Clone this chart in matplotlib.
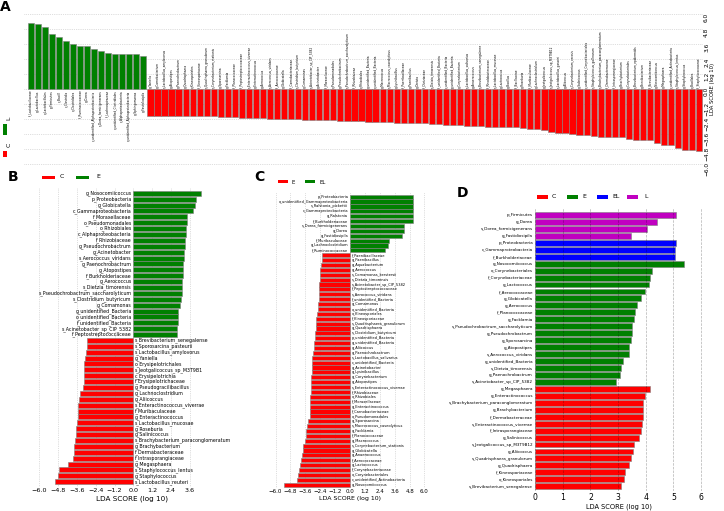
import numpy as np
import matplotlib
matplotlib.use('Agg')
import matplotlib.pyplot as plt
from matplotlib.patches import Rectangle

W, H = 724, 511

RED = '#ff0000'
GREEN = '#008000'
BLUE = '#0000ff'
MAGENTA = '#c000c0'
EDGE = '#808080'

# ---------------- panel A : C vs L ----------------
a_labels_L = ['f_Lactobacillaceae', 'g_Lactobacillus', 'o_Lactobacillales', 'p_Firmicutes',
              'c_Bacilli', 'c_Clostridia', 'o_Clostridiales', 'f_Ruminococcaceae', 'g_Dorea',
              'c_unidentified_Alphaproteobacteria', 's_Dorea_formicigenerans', 'f_Lachnospiraceae',
              'o_unidentified_Clostridiales', 'c_Alphaproteobacteria',
              'o_unidentified_Alphaproteobacteria', 'g_Sphingomonas', 'g_Fastidiosipila']
a_scores_L = [5.29, 5.21, 5.02, 4.43, 4.16, 3.89, 3.65, 3.46, 3.46, 3.25, 3.06, 2.90,
              2.84, 2.84, 2.79, 2.79, 2.68]

a_labels_C = ['g_Yaniella', 'g_Carnobacterium', 's_Lactobacillus_amylovorus', 'g_Atopostipes',
              'g_Paenochrobactrum', 'g_Quadrisphaera', 'o_Kineosporiales', 'f_Kineosporiaceae',
              's_Quadrisphaera_granulorum', 's_Corynebacterium_stationis', 'g_Sporosarcina',
              'g_Facklamia', 'f_Planococcaceae', 'f_Peptostreptococcaceae',
              's_Enteractinococcus_viverrae', 'g_Enteractinococcus', 'g_Aerococcus',
              's_Aerococcus_viridans', 'f_Aerococcaceae', 'g_Globicatella', 'f_Carnobacteriaceae',
              's_Clostridium_butyricum', 'g_Comamonas', 's_Acinetobacter_sp_CIP_5382',
              'g_Acinetobacter', 'f_Moraxellaceae', 'o_Pseudomonadales', 'g_Pseudochrobactrum',
              's_Pseudochrobactrum_saccharolyticum', 'f_Rhizobiaceae', 'o_Rhizobiales',
              'g_unidentified_Bacteria', 'o_unidentified_Bacteria', 'g_Macrococcus',
              's_Macrococcus_caseolyticus', 'g_Lysinibacillus', 'f_Paenibacillaceae',
              'g_Paenibacillus', 'g_Dietzia', 'f_Dietziaceae', 's_Dietzia_timorensis',
              'f_unidentified_Bacteria', 'c_unidentified_Bacteria', 'p_unidentified_Bacteria',
              'g_Corynebacterium', 's_Lactobacillus_salivarius', 'g_Anaerococcus',
              's_Brevibacterium_senegalense', 'f_Rhodobacteraceae', 's_Lactobacillus_mucosae',
              'g_Lactococcus', 'g_Bacillus', 'f_Bacillaceae', 'g_Roseburia', 'f_Muribaculaceae',
              'g_Lachnoclostridium', 'g_Jeotgalicoccus', 's_Jeotgalicoccus_sp_M3T9B12',
              's_Lactobacillus_gasseri', 'g_Aliicoccus', 's_Corynebacterium_xerosis',
              'g_Salinicoccus', 'c_unidentified_Corynebacteriales', 's_Staphylococcus_gallinarum',
              's_Brachybacterium_paraconglomeratum', 'f_Dermabacteraceae', 'f_Intrasporangiaceae',
              'g_Brachybacterium', 'o_Corynebacteriales', 's_Brevibacterium_epidermidis',
              'g_Brevibacterium', 'f_Brevibacteriaceae', 'g_Nosocomiicoccus', 'g_Megasphaera',
              'c_unidentified_Actinobacteria', 's_Staphylococcus_lentus', 'g_Staphylococcus',
              'o_Bacillales', 'f_Staphylococcaceae']
a_scores_C = [-2.14, -2.15, -2.15, -2.16, -2.17, -2.17, -2.18, -2.19, -2.20, -2.21, -2.23,
              -2.25, -2.27, -2.30, -2.33,
              -2.36, -2.37, -2.39, -2.40, -2.42, -2.44, -2.45, -2.47, -2.48, -2.50, -2.52,
              -2.53, -2.55, -2.57, -2.58, -2.60, -2.62, -2.63, -2.65, -2.67, -2.70, -2.72,
              -2.73, -2.75, -2.77, -2.80, -2.83, -2.86, -2.88, -2.91, -2.94, -2.96,
              -2.98, -3.03, -3.03, -3.06, -3.08, -3.08, -3.11, -3.19, -3.24, -3.30, -3.44,
              -3.52, -3.57, -3.65, -3.70, -3.73, -3.78, -3.84, -3.84, -3.84, -3.89, -4.00,
              -4.08, -4.08, -4.14, -4.32, -4.48, -4.51, -4.78, -4.88, -4.92, -4.97]

# ---------------- panel B : C vs E ----------------
b_labels_E = ['g_Nosocomiicoccus', 'p_Proteobacteria', 'g_Globicatella', 'c_Gammaproteobacteria',
              'f_Moraxellaceae', 'o_Pseudomonadales', 'o_Rhizobiales', 'c_Alphaproteobacteria',
              'f_Rhizobiaceae', 'g_Pseudochrobactrum', 'g_Acinetobacter', 's_Aerococcus_viridans',
              'g_Paenochrobactrum', 'g_Atopostipes', 'f_Burkholderiaceae', 'g_Aerococcus',
              's_Dietzia_timorensis', 's_Pseudochrobactrum_saccharolyticum',
              's_Clostridium_butyricum', 'g_Comamonas', 'g_unidentified_Bacteria',
              'o_unidentified_Bacteria', 'f_unidentified_Bacteria', 's_Acinetobacter_sp_CIP_5382',
              'f_Peptostreptococcaceae']
b_scores_E = [4.32, 4.00, 3.94, 3.81, 3.43, 3.43, 3.38, 3.34, 3.32, 3.28, 3.26, 3.24, 3.17,
              3.17, 3.15, 3.14, 3.11, 3.09, 3.04, 2.98, 2.87, 2.87, 2.87, 2.77, 2.77]
b_labels_C = ['s_Brevibacterium_senegalense', 's_Sporosarcina_pasteurii',
              's_Lactobacillus_amylovorus', 'g_Yaniella', 'o_Erysipelotrichales',
              's_Jeotgalicoccus_sp_M3T9B1', 'c_Erysipelotrichia', 'f_Erysipelotrichaceae',
              'g_Pseudogracilibacillus', 'g_Lachnoclostridium', 'g_Aliicoccus',
              's_Enteractinococcus_viverrae', 'f_Muribaculaceae', 'g_Enteractinococcus',
              's_Lactobacillus_mucosae', 'g_Roseburia', 'g_Salinicoccus',
              's_Brachybacterium_paraconglomeratum', 'g_Brachybacterium', 'f_Dermabacteraceae',
              'f_Intrasporangiaceae', 'g_Megasphaera', 's_Staphylococcus_lentus',
              'g_Staphylococcus', 's_Lactobacillus_reuteri']
b_scores_C = [-2.94, -2.98, -3.00, -3.10, -3.12, -3.15, -3.15, -3.17, -3.21, -3.40, -3.45,
              -3.53, -3.55, -3.55, -3.60, -3.64, -3.68, -3.74, -3.77, -3.79, -3.87, -4.17,
              -4.74, -4.81, -4.98]

# ---------------- panel C : E vs EL ----------------
c_labels_EL = ['p_Proteobacteria', 'o_unidentified_Gammaproteobacteria', 's_Ralstonia_pickettii',
               'c_Gammaproteobacteria', 'g_Ralstonia', 'f_Burkholderiaceae',
               's_Dorea_formicigenerans', 'g_Dorea', 'g_Fastidiosipila', 'f_Muribaculaceae',
               'g_Lachnoclostridium', 'f_Ruminococcaceae']
c_scores_EL = [5.10, 5.10, 5.10, 5.10, 5.10, 5.10, 4.35, 4.35, 4.19, 3.14, 3.08, 2.84]
c_labels_E = ['f_Paenibacillaceae', 'g_Paenibacillus', 'g_Aquabacterium', 'g_Aerococcus',
              's_Comamonas_kerstersii', 's_Dietzia_timorensis', 's_Acinetobacter_sp_CIP_5382',
              'f_Peptostreptococcaceae', 's_Aerococcus_viridans', 'f_unidentified_Bacteria',
              'g_Comamonas', 'o_unidentified_Bacteria', 'o_Kineosporiales', 'f_Kineosporiaceae',
              's_Quadrisphaera_granulorum', 'g_Quadrisphaera', 's_Clostridium_butyricum',
              'p_unidentified_Bacteria', 'g_unidentified_Bacteria', 'g_Aliicoccus',
              'g_Paenochrobactrum', 's_Lactobacillus_salivarius', 'c_unidentified_Bacteria',
              'g_Acinetobacter', 'g_Lysinibacillus', 'g_Corynebacterium', 'g_Atopostipes',
              's_Enteractinococcus_viverrae', 'f_Rhizobiaceae', 'o_Rhizobiales',
              'f_Moraxellaceae', 'g_Enteractinococcus', 'f_Carnobacteriaceae',
              'o_Pseudomonadales', 'g_Sporosarcina', 's_Macrococcus_caseolyticus',
              'g_Facklamia', 'f_Planococcaceae', 'g_Macrococcus', 's_Corynebacterium_stationis',
              'g_Globicatella', 'g_Anaerococcus', 'f_Aerococcaceae', 'g_Lactococcus',
              'f_Corynebacteriaceae', 'o_Corynebacteriales', 'c_unidentified_Actinobacteria',
              'g_Nosocomiicoccus']
c_scores_E = [-2.28, -2.28, -2.36, -2.39, -2.42, -2.45, -2.47, -2.50, -2.52, -2.52, -2.55,
              -2.60, -2.68, -2.71, -2.76, -2.76, -2.82, -2.84, -2.87, -2.87, -3.01, -3.03,
              -3.06, -3.09, -3.09, -3.11, -3.14, -3.17, -3.17, -3.19, -3.22, -3.25, -3.25,
              -3.25, -3.35, -3.49, -3.52, -3.54, -3.60, -3.76, -3.81, -3.86, -3.95, -4.03,
              -4.11, -4.16, -4.29, -5.29]

# ---------------- panel D : C, E, EL, L ----------------
d_labels_L = ['p_Firmicutes', 'g_Dorea', 's_Dorea_formicigenerans', 'g_Fastidiosipila']
d_scores_L = [5.09, 4.42, 4.03, 3.47]
d_labels_EL = ['p_Proteobacteria', 'c_Gammaproteobacteria', 'f_Burkholderiaceae']
d_scores_EL = [5.09, 5.05, 5.05]
d_labels_E = ['g_Nosocomiicoccus', 'o_Corynebacteriales', 'f_Corynebacteriaceae', 'g_Lactococcus',
              'f_Aerococcaceae', 'g_Globicatella', 'g_Aerococcus', 'f_Planococcaceae',
              'g_Facklamia', 's_Pseudochrobactrum_saccharolyticum', 'g_Pseudochrobactrum',
              'g_Sporosarcina', 'g_Atopostipes', 's_Aerococcus_viridans',
              'g_unidentified_Bacteria', 's_Dietzia_timorensis', 'g_Paenochrobactrum',
              's_Acinetobacter_sp_CIP_5382']
d_scores_E = [5.37, 4.22, 4.16, 4.10, 3.99, 3.84, 3.70, 3.62, 3.57, 3.50, 3.50, 3.48, 3.39,
              3.38, 3.18, 3.12, 3.08, 2.92]
d_labels_C = ['g_Megasphaera', 'g_Enteractinococcus', 's_Brachybacterium_paraconglomeratum',
              'g_Brachybacterium', 'f_Dermabacteraceae', 's_Enteractinococcus_viverrae',
              'f_Intrasporangiaceae', 'g_Salinicoccus', 's_Jeotgalicoccus_sp_M3T9B12',
              'g_Aliicoccus', 's_Quadrisphaera_granulorum', 'g_Quadrisphaera',
              'f_Kineosporiaceae', 'o_Kineosporiales', 's_Brevibacterium_senegalense']
d_scores_C = [4.16, 3.98, 3.91, 3.91, 3.90, 3.87, 3.81, 3.75, 3.57, 3.55, 3.45, 3.38, 3.24,
              3.20, 3.09]


def px_rect(l, t, r, b):
    return [l / W, 1 - b / H, (r - l) / W, (b - t) / H]


def fig_box(x0, y0, x1, y1, color):
    fig.add_artist(Rectangle((x0 / W, 1 - y1 / H), (x1 - x0) / W, (y1 - y0) / H,
                             transform=fig.transFigure, facecolor=color, edgecolor='none'))


def fig_txt(x, y, s, size, **kw):
    fig.text(x / W, 1 - y / H, s, fontsize=size, va='center', **kw)


def fmt(v):
    s = f'{v:.1f}'
    if s == '-0.0':
        s = '0.0'
    return s.replace('-', '\u2212')


def clean(ax):
    for sp in ax.spines.values():
        sp.set_visible(False)


fig = plt.figure(figsize=(W / 100, H / 100), dpi=100)

# ===== A =====
axA = fig.add_axes(px_rect(23.8, 12, 702.7, 166))
a_scores = a_scores_L + a_scores_C
a_labels = a_labels_L + a_labels_C
a_colors = [GREEN] * len(a_scores_L) + [RED] * len(a_scores_C)
xa = np.arange(len(a_scores))
axA.bar(xa, a_scores, width=0.88, color=a_colors, edgecolor=EDGE, linewidth=0.4, zorder=2)
for x, v, lab in zip(xa, a_scores, a_labels):
    if v > 0:
        axA.text(x, -0.12, lab, rotation=90, ha='center', va='top', fontsize=2.1)
    else:
        axA.text(x, 0.12, lab, rotation=90, ha='center', va='bottom', fontsize=2.1)
ticks = np.round(np.arange(-6, 6.01, 1.2), 1)
axA.set_xlim(-1.0, len(a_scores) - 0.5)
axA.set_ylim(-6.2, 6.2)
axA.set_xticks([])
axA.set_yticks(ticks)
axA.set_yticklabels([fmt(t) for t in ticks])
axA.yaxis.tick_right()
axA.yaxis.set_label_position('right')
axA.tick_params(axis='y', length=0, pad=1, labelsize=4.2, labelrotation=90)
axA.set_ylabel('LDA SCORE (log 10)', fontsize=3.8, rotation=90, labelpad=1)
axA.yaxis.grid(True, linestyle=':', color='0.75', linewidth=0.5)
axA.set_axisbelow(True)
clean(axA)

fig_box(3.3, 124, 7.3, 135, GREEN)
fig_txt(9.3, 118, 'L', 4.5, rotation=90, ha='center')
fig_box(3.3, 151.5, 7.3, 157.5, RED)
fig_txt(9.3, 145, 'C', 4.5, rotation=90, ha='center')
fig_txt(5, 7, 'A', 10, ha='center', fontweight='bold')


def lefse_h(ax, pos_labels, pos_scores, neg_labels, neg_scores, pos_col, neg_col,
            lab_size, off, tk, tick_size):
    scores = pos_scores + neg_scores
    labels = pos_labels + neg_labels
    cols = [pos_col] * len(pos_scores) + [neg_col] * len(neg_scores)
    y = np.arange(len(scores))
    ax.barh(y, scores, height=0.85, color=cols, edgecolor=EDGE, linewidth=0.4, zorder=2)
    for yy, v, lab in zip(y, scores, labels):
        if v > 0:
            ax.text(-off, yy, lab, ha='right', va='center', fontsize=lab_size)
        else:
            ax.text(off, yy, lab, ha='left', va='center', fontsize=lab_size)
    ax.set_yticks([])
    ax.set_xticks(tk)
    ax.set_xticklabels([fmt(t) for t in tk])
    ax.tick_params(axis='x', length=0, pad=1, labelsize=tick_size)
    ax.xaxis.grid(True, linestyle=':', color='0.75', linewidth=0.5)
    ax.set_axisbelow(True)
    clean(ax)
    return len(scores)


# ===== B =====
b_l, b_t, b_r, b_b = 34.6, 188, 203.8, 487
axB = fig.add_axes(px_rect(b_l, b_t, b_r, b_b))
nb = lefse_h(axB, b_labels_E, b_scores_E, b_labels_C, b_scores_C, GREEN, RED,
             3.4, 0.1, np.round(np.arange(-6, 3.61, 1.2), 1), 4.6)
axB.set_xlim(-6.3, 4.5)
axB.set_ylim(nb - 0.1, -0.9)
axB.set_xlabel('LDA SCORE (log 10)', fontsize=5.2)
axB.xaxis.set_label_coords((132 - b_l) / (b_r - b_l), -(495.5 - b_b) / (b_b - b_t))
fig_box(41.7, 175.5, 55, 179, RED)
fig_txt(60, 177, 'C', 4.5)
fig_box(76, 175.5, 89, 179, GREEN)
fig_txt(96, 177, 'E', 4.5)
fig_txt(13, 177, 'B', 10, ha='center', fontweight='bold')

# ===== C =====
c_l, c_t, c_r, c_b = 271.8, 191.7, 428.2, 488
axC = fig.add_axes(px_rect(c_l, c_t, c_r, c_b))
nc = lefse_h(axC, c_labels_EL, c_scores_EL, c_labels_E, c_scores_E, GREEN, RED,
             2.6, 0.15, ticks, 4.0)
axC.set_xlim(-6.3, 6.3)
axC.set_ylim(nc - 0.32, -1.02)
axC.set_xlabel('LDA SCORE (log 10)', fontsize=4.5)
axC.xaxis.set_label_coords(0.5, -(496 - c_b) / (c_b - c_t))
fig_box(278, 180.5, 288, 183.5, RED)
fig_txt(292, 182, 'E', 4)
fig_box(305, 180.5, 315, 183.5, GREEN)
fig_txt(319, 182, 'EL', 4)
fig_txt(259, 177, 'C', 10, ha='center', fontweight='bold')

# ===== D =====
d_l, d_t, d_r, d_b = 535, 208.3, 706.7, 491
axD = fig.add_axes(px_rect(d_l, d_t, d_r, d_b))
d_scores = d_scores_L + d_scores_EL + d_scores_E + d_scores_C
d_labels = d_labels_L + d_labels_EL + d_labels_E + d_labels_C
d_cols = ([MAGENTA] * len(d_scores_L) + [BLUE] * len(d_scores_EL) +
          [GREEN] * len(d_scores_E) + [RED] * len(d_scores_C))
yd = np.arange(len(d_scores))
axD.barh(yd, d_scores, height=0.85, color=d_cols, edgecolor=EDGE, linewidth=0.4, zorder=1)
axD.set_yticks(yd)
axD.set_yticklabels(d_labels)
axD.tick_params(axis='y', length=0, pad=1.5, labelsize=3)
axD.set_xticks(range(0, 7))
axD.tick_params(axis='x', length=0, pad=1.5, labelsize=5.6)
axD.set_xlim(0, 6.2)
axD.set_ylim(len(d_scores) - 0.32, -0.96)
axD.set_xlabel('LDA SCORE (log 10)', fontsize=4.8)
axD.xaxis.set_label_coords((618.5 - d_l) / (d_r - d_l), -(503 - d_b) / (d_b - d_t))
axD.xaxis.grid(True, linestyle='--', color='k', alpha=0.3, linewidth=0.5)
axD.set_axisbelow(False)
clean(axD)
fig_box(537, 195, 548, 199, RED)
fig_txt(552, 197, 'C', 4.5)
fig_box(567, 195, 578, 199, GREEN)
fig_txt(582, 197, 'E', 4.5)
fig_box(597, 195, 608, 199, BLUE)
fig_txt(612, 197, 'EL', 4.5)
fig_box(627, 195, 638, 199, MAGENTA)
fig_txt(644, 197, 'L', 4.5)
fig_txt(463, 193, 'D', 10, ha='center', fontweight='bold')

fig.savefig('out.png', dpi=100, facecolor='white')
